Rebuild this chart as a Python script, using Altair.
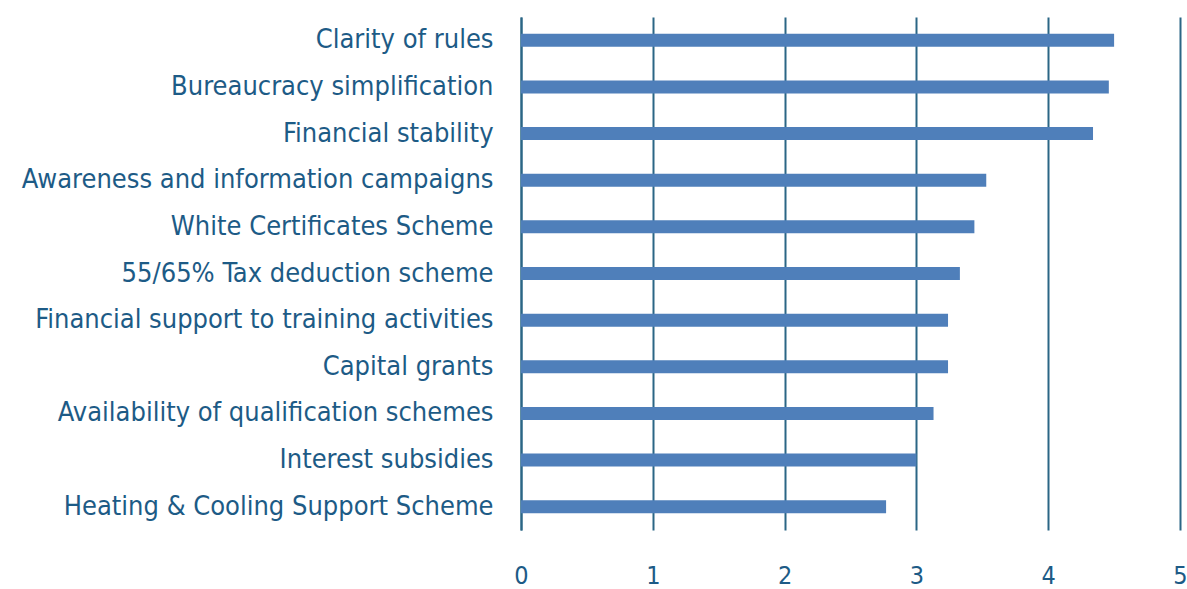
import altair as alt
import pandas as pd

categories = [
    "Clarity of rules",
    "Bureaucracy simplification",
    "Financial stability",
    "Awareness and information campaigns",
    "White Certificates Scheme",
    "55/65% Tax deduction scheme",
    "Financial support to training activities",
    "Capital grants",
    "Availability of qualification schemes",
    "Interest subsidies",
    "Heating & Cooling Support Scheme",
]
values = [4.50, 4.46, 4.34, 3.53, 3.44, 3.33, 3.24, 3.24, 3.13, 3.00, 2.77]
x_ticks = [0, 1, 2, 3, 4, 5]

df = pd.DataFrame({"category": categories, "value": values})

FONT = "DejaVu Sans Condensed"
TEXT = "#1d5b86"
GRID = "#2b6685"

chart = (
    alt.Chart(df)
    .mark_bar(size=13, color="#4f7fba")
    .encode(
        x=alt.X(
            "value:Q",
            scale=alt.Scale(domain=[0, 5], nice=False),
            axis=alt.Axis(
                values=x_ticks,
                title=None,
                domain=False,
                ticks=False,
                grid=True,
                gridColor=GRID,
                gridWidth=2,
                gridOpacity=1,
                labelFont=FONT,
                labelFontSize=25,
                labelColor=TEXT,
                labelPadding=33,
                labelFlush=False,
            ),
        ),
        y=alt.Y(
            "category:N",
            sort=categories,
            scale=alt.Scale(paddingInner=0.0, paddingOuter=0.0),
            axis=alt.Axis(
                title=None,
                ticks=False,
                domain=True,
                domainColor=GRID,
                domainWidth=2,
                grid=False,
                labelFont=FONT,
                labelFontSize=27,
                labelColor=TEXT,
                labelPadding=28,
                labelLimit=600,
            ),
        ),
    )
    .properties(
        width=659,
        height=513,
        autosize=alt.AutoSizeParams(type="none"),
        padding={"left": 521, "top": 17, "right": 7, "bottom": 59},
    )
    .configure_view(stroke=None)
)

chart.save("out.html", embed_options={"renderer": "svg", "actions": False})
